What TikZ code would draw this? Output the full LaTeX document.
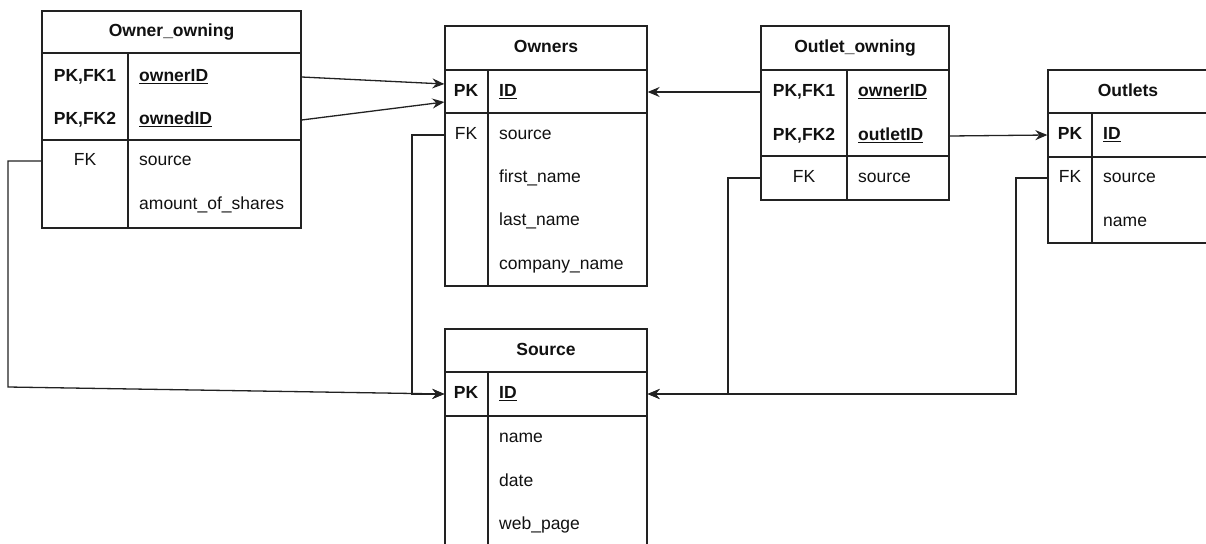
\documentclass[tikz,border=0pt]{standalone}
\usepackage{fontspec}
\setmainfont{Liberation Sans}
\usetikzlibrary{arrows.meta,calc}
\definecolor{ln}{HTML}{222222}
\definecolor{tx}{HTML}{111111}
\tikzset{
  tbl/.style={draw=ln, line width=1.3pt, inner sep=0pt, fill=white},
  sep/.style={draw=ln, line width=1.3pt},
  ttl/.style={inner sep=0pt, text height=12.5pt, text depth=3.5pt, font=\fontsize{17.5}{20}\selectfont\bfseries, text=tx},
  key/.style={inner sep=0pt, text height=12.5pt, text depth=3.5pt, font=\fontsize{17.5}{20}\selectfont\bfseries, text=tx},
  fkl/.style={inner sep=0pt, text height=12.5pt, text depth=3.5pt, font=\fontsize{17.5}{20}\selectfont, text=tx},
  fld/.style={anchor=west, inner sep=0pt, text height=12.5pt, text depth=3.5pt, font=\fontsize{17.5}{20}\selectfont, text=tx},
  pkf/.style={anchor=west, inner sep=0pt, text height=12.5pt, text depth=3.5pt, font=\fontsize{17.5}{20}\selectfont\bfseries, text=tx},
  conn/.style={draw=ln, line width=1.3pt},
  arr/.style={conn, -{Stealth[length=12pt,width=10pt,inset=4pt]}}
}
\newcommand{\pkname}[1]{\underline{#1}}
\begin{document}
\begin{tikzpicture}[x=1pt,y=-1pt]
\useasboundingbox (0,0) rectangle (1206,543);
\fill[white] (0,0) rectangle (1206,543);

% ---------- Owner_owning ----------
\node[tbl, minimum width=259pt, minimum height=217pt] (oo) at (171.5,119.5) {};
\draw[sep] (42,53) -- (301,53);
\draw[sep] (42,140) -- (301,140);
\draw[sep] (128,53) -- (128,228);
\node[ttl] (oo-t) at (171.5,32) {Owner\_owning};
\node[key] (oo-k1) at (85,77) {PK,FK1};
\node[key] (oo-k2) at (85,120) {PK,FK2};
\node[fkl] (oo-fk) at (85,161) {FK};
\node[pkf] (oo-r1) at (139,77) {\pkname{ownerID}};
\node[pkf] (oo-r2) at (139,120) {\pkname{ownedID}};
\node[fld] (oo-r3) at (139,161) {source};
\node[fld] (oo-r4) at (139,205) {amount\_of\_shares};

% ---------- Owners ----------
\node[tbl, minimum width=202pt, minimum height=260pt] (ow) at (546,156) {};
\draw[sep] (445,70) -- (647,70);
\draw[sep] (445,113) -- (647,113);
\draw[sep] (488,70) -- (488,286);
\node[ttl] (ow-t) at (546,48) {Owners};
\node[key] (ow-pk) at (466,92) {PK};
\node[fkl] (ow-fk) at (466,135) {FK};
\node[pkf] (ow-r1) at (499,92) {\pkname{ID}};
\node[fld] (ow-r2) at (499,135) {source};
\node[fld] (ow-r3) at (499,178) {first\_name};
\node[fld] (ow-r4) at (499,221) {last\_name};
\node[fld] (ow-r5) at (499,265) {company\_name};

% ---------- Outlet_owning ----------
\node[tbl, minimum width=188pt, minimum height=174pt] (olo) at (855,113) {};
\draw[sep] (761,70) -- (949,70);
\draw[sep] (761,156) -- (949,156);
\draw[sep] (847,70) -- (847,200);
\node[ttl] (olo-t) at (855,48) {Outlet\_owning};
\node[key] (olo-k1) at (804,92) {PK,FK1};
\node[key] (olo-k2) at (804,136) {PK,FK2};
\node[fkl] (olo-fk) at (804,178) {FK};
\node[pkf] (olo-r1) at (858,92) {\pkname{ownerID}};
\node[pkf] (olo-r2) at (858,136) {\pkname{outletID}};
\node[fld] (olo-r3) at (858,178) {source};

% ---------- Outlets ----------
\node[tbl, minimum width=160pt, minimum height=173pt] (ot) at (1128,156.5) {};
\draw[sep] (1048,113) -- (1208,113);
\draw[sep] (1048,157) -- (1208,157);
\draw[sep] (1092,113) -- (1092,243);
\node[ttl] (ot-t) at (1128,92) {Outlets};
\node[key] (ot-pk) at (1070,135) {PK};
\node[fkl] (ot-fk) at (1070,178) {FK};
\node[pkf] (ot-r1) at (1103,135) {\pkname{ID}};
\node[fld] (ot-r2) at (1103,178) {source};
\node[fld] (ot-r3) at (1103,222) {name};

% ---------- Source ----------
\node[tbl, minimum width=202pt, minimum height=220pt] (src) at (546,439) {};
\draw[sep] (445,372) -- (647,372);
\draw[sep] (445,416) -- (647,416);
\draw[sep] (488,372) -- (488,549);
\node[ttl] (src-t) at (546,351) {Source};
\node[key] (src-pk) at (466,394) {PK};
\node[pkf] (src-r1) at (499,394) {\pkname{ID}};
\node[fld] (src-r2) at (499,438) {name};
\node[fld] (src-r3) at (499,482) {date};
\node[fld] (src-r4) at (499,525) {web\_page};

% ---------- bend points ----------
\coordinate (k1) at (8,387);
\coordinate (k2) at (412,394);
\coordinate (k3) at (728,394);
\coordinate (k4) at (1016,394);

% ---------- connectors ----------
\draw[arr] (oo.east |- oo-r1) -- ($(ow.west |- ow-pk)+(0,-8)$);
\draw[arr] (oo.east |- oo-r2) -- ($(ow.west |- ow-pk)+(0,10)$);
\draw[arr] (olo.west |- olo-r1) -- (ow.east |- ow-pk);
\draw[arr] (olo.east |- olo-r2) -- (ot.west |- ot-pk);
\draw[arr] (oo.west |- oo-fk) -| (k1) -- (src.west |- src-pk);
\draw[arr] (ow.west |- ow-fk) -| (k2) -- (src.west |- src-pk);
\draw[arr] (olo.west |- olo-fk) -| (k3) -- (src.east |- src-pk);
\draw[arr] (ot.west |- ot-fk) -| (k4) -- (src.east |- src-pk);
\end{tikzpicture}
\end{document}
